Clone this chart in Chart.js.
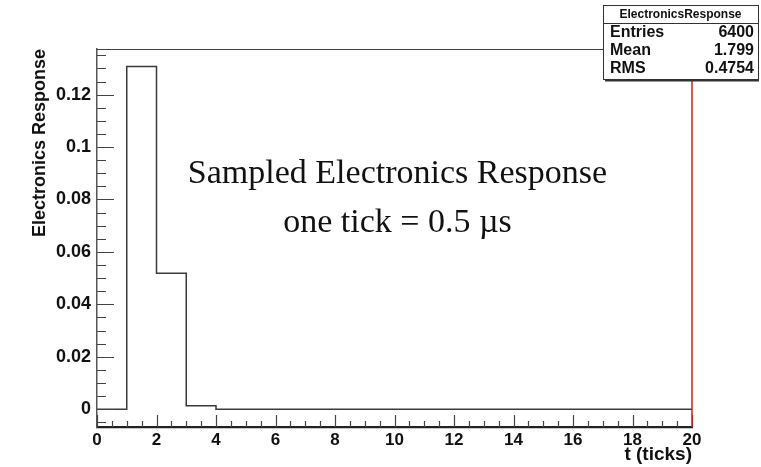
<!DOCTYPE html>
<html>
<head>
<meta charset="utf-8">
<script src="https://cdn.jsdelivr.net/npm/chart.js@4/dist/chart.umd.min.js"></script>
<style>
  html, body { margin: 0; padding: 0; background: #fff; }
  #wrap { width: 761px; height: 467px; }
</style>
</head>
<body>
<div id="wrap"><canvas id="myChart" width="761" height="467"></canvas></div>
<script>
// histogram bins (lower edges + last upper edge) and contents
const binEdges = [0, 1, 2, 3, 4, 5, 6, 7, 8, 9, 10, 11, 12, 13, 14, 15, 16, 17, 18, 19, 20];
const response = [0, 0.1307, 0.0519, 0.0013, 0, 0, 0, 0, 0, 0, 0, 0, 0, 0, 0, 0, 0, 0, 0, 0];

const xTicks = [0, 2, 4, 6, 8, 10, 12, 14, 16, 18, 20];
const yTicks = [0, 0.02, 0.04, 0.06, 0.08, 0.1, 0.12];
const yTickLabels = ['0', '0.02', '0.04', '0.06', '0.08', '0.1', '0.12'];
const xMinorStep = 0.5;
const yMinorStep = 0.005;
const yMin = -0.0068;
const yMax = 0.1374;

// stats box contents
const statsTitle = 'ElectronicsResponse';
const statsNames = ['Entries', 'Mean', 'RMS'];
const statsValues = ['6400', '1.799', '0.4754'];

const noteLines = ['Sampled Electronics Response', 'one tick = 0.5 \u00b5s'];

const SANS = "'Liberation Sans', Arial, Helvetica, sans-serif";
const SERIF = "'Liberation Serif', 'Times New Roman', serif";
Chart.defaults.font.family = SANS;

// each bin content held from its lower edge to the next edge
const points = binEdges.map((e, i) => ({ x: e, y: response[Math.min(i, response.length - 1)] }));

// ROOT style inward ticks, frame, text and stats box
const rootStyle = {
  id: 'rootStyle',
  afterDatasetsDraw(chart) {
    const { ctx, chartArea: a, scales: { x, y } } = chart;
    ctx.save();
    ctx.strokeStyle = '#444';
    ctx.lineWidth = 1.2;
    ctx.beginPath();
    // x ticks, pointing up from the bottom axis
    for (let v = x.min; v <= x.max + 1e-9; v += xMinorStep) {
      const px = Math.round(x.getPixelForValue(v)) + 0.5;
      const major = xTicks.some(t => Math.abs(t - v) < 1e-6);
      ctx.moveTo(px, a.bottom);
      ctx.lineTo(px, a.bottom - (major ? 12 : 6));
    }
    // y ticks, pointing right from the left axis
    const yStart = Math.ceil(y.min / yMinorStep) * yMinorStep;
    for (let v = yStart; v <= y.max + 1e-9; v += yMinorStep) {
      const py = Math.round(y.getPixelForValue(v)) + 0.5;
      const major = yTicks.some(t => Math.abs(t - v) < 1e-6);
      ctx.moveTo(a.left, py);
      ctx.lineTo(a.left + (major ? 17 : 9), py);
    }
    ctx.stroke();

    // frame top
    ctx.beginPath();
    ctx.moveTo(a.left, a.top + 0.5);
    ctx.lineTo(a.right, a.top + 0.5);
    ctx.stroke();
    // right frame in red
    ctx.strokeStyle = '#c0261c';
    ctx.lineWidth = 1.5;
    ctx.beginPath();
    ctx.moveTo(a.right, a.top);
    ctx.lineTo(a.right, a.bottom);
    ctx.stroke();

    // annotation
    ctx.fillStyle = '#111';
    ctx.font = '34px ' + SERIF;
    ctx.textAlign = 'center';
    ctx.textBaseline = 'alphabetic';
    ctx.fillText(noteLines[0], x.getPixelForValue(10.1), y.getPixelForValue(0.0863));
    ctx.fillText(noteLines[1], x.getPixelForValue(10.1), y.getPixelForValue(0.0676));
    ctx.restore();
  },
  afterDraw(chart) {
    const { ctx } = chart;
    const bx = 603, by = 5, bw = 155, bh = 74;
    ctx.save();
    ctx.fillStyle = '#fff';
    ctx.fillRect(bx, by, bw, bh);
    ctx.strokeStyle = '#333';
    ctx.lineWidth = 1;
    ctx.strokeRect(bx + 0.5, by + 0.5, bw, bh);
    ctx.beginPath();
    ctx.moveTo(bx, by + 18.5);
    ctx.lineTo(bx + bw, by + 18.5);
    ctx.stroke();
    // shadow
    ctx.lineWidth = 2;
    ctx.beginPath();
    ctx.moveTo(bx + 2, by + bh + 1.5);
    ctx.lineTo(bx + bw + 1, by + bh + 1.5);
    ctx.stroke();

    ctx.fillStyle = '#111';
    ctx.textBaseline = 'middle';
    ctx.textAlign = 'center';
    ctx.font = 'bold 12px ' + SANS;
    ctx.fillText(statsTitle, bx + bw / 2, by + 9.5);
    ctx.font = 'bold 16px ' + SANS;
    statsNames.forEach((n, i) => {
      const ty = by + 28 + i * 18;
      ctx.textAlign = 'left';
      ctx.fillText(n, bx + 7, ty);
      ctx.textAlign = 'right';
      ctx.fillText(statsValues[i], bx + bw - 4, ty);
    });
    ctx.restore();
  }
};

new Chart(document.getElementById('myChart'), {
  type: 'line',
  data: {
    datasets: [{
      label: 'ElectronicsResponse',
      data: points,
      stepped: 'before',
      borderColor: '#3a3a3a',
      borderWidth: 1.5,
      pointRadius: 0,
      fill: false
    }]
  },
  options: {
    responsive: false,
    animation: false,
    layout: { padding: { top: 49, right: 69, left: 0, bottom: 0 } },
    plugins: { legend: { display: false }, tooltip: { enabled: false } },
    scales: {
      x: {
        type: 'linear',
        min: 0,
        max: 20,
        afterBuildTicks: s => { s.ticks = xTicks.map(v => ({ value: v })); },
        afterFit: s => { s.height = 40; },
        grid: { display: false, drawTicks: false },
        border: { display: true, color: '#222', width: 2.2 },
        ticks: { color: '#111', padding: 3, maxRotation: 0, font: { size: 17, weight: 'bold' } },
        title: { display: true, text: 't (ticks)', align: 'end', color: '#111',
                 padding: { top: 0, bottom: 1 }, font: { size: 19, weight: 'bold' } }
      },
      y: {
        min: yMin,
        max: yMax,
        afterBuildTicks: s => { s.ticks = yTicks.map(v => ({ value: v })); },
        afterFit: s => { s.width = 97; },
        grid: { display: false, drawTicks: false },
        border: { display: true, color: '#555', width: 1.5 },
        ticks: { color: '#111', padding: 6, font: { size: 18, weight: 'bold' },
                 callback: (v, i) => yTickLabels[i] },
        title: { display: true, text: 'Electronics Response', align: 'end', color: '#111',
                 padding: { top: 29, bottom: 0 }, font: { size: 18, weight: 'bold' } }
      }
    }
  },
  plugins: [rootStyle]
});
</script>
</body>
</html>
